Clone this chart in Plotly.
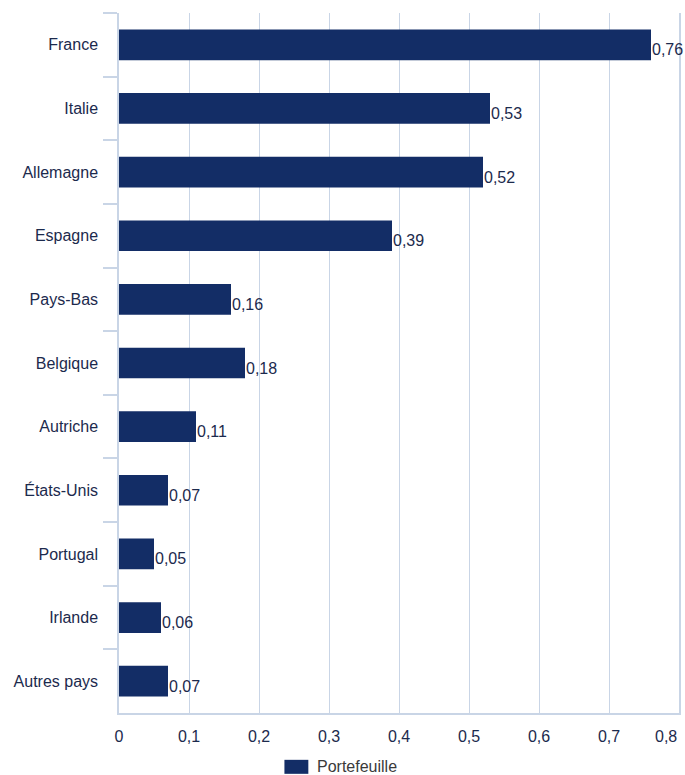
import plotly.graph_objects as go

# Exposition par pays
countries = ["France", "Italie", "Allemagne", "Espagne", "Pays-Bas", "Belgique",
             "Autriche", "États-Unis", "Portugal", "Irlande", "Autres pays"]
values = [0.76, 0.53, 0.52, 0.39, 0.16, 0.18, 0.11, 0.07, 0.05, 0.06, 0.07]
x_ticks = [0, 0.1, 0.2, 0.3, 0.4, 0.5, 0.6, 0.7, 0.8]
x_tick_labels = ["0", "0,1", "0,2", "0,3", "0,4", "0,5", "0,6", "0,7", "0,8"]
series_name = "Portefeuille"

BAR = "#132d66"
TEXT = "#1c2a4d"
GRID = "#c9d5e6"
FONT = "Liberation Sans, Arial, sans-serif"

fig = go.Figure(
    go.Bar(
        x=values,
        y=countries,
        orientation="h",
        name=series_name,
        marker=dict(color=BAR, line=dict(width=0)),
        showlegend=False,
        hoverinfo="x+y",
    )
)

# value labels just right of each bar end
for c, v in zip(countries, values):
    fig.add_annotation(
        x=v, y=c, xref="x", yref="y",
        text=f"{v:.2f}".replace(".", ","),
        showarrow=False, xanchor="left", yanchor="middle",
        xshift=-1, yshift=-5,
        font=dict(family=FONT, size=16, color=TEXT),
    )

# last x tick label sits flush against the right edge
fig.add_annotation(
    x=x_ticks[-1], y=0, xref="x", yref="paper",
    text=x_tick_labels[-1], showarrow=False,
    xanchor="right", yanchor="middle", yshift=-23,
    font=dict(family=FONT, size=16, color=TEXT),
)

# legend key below the plot: wide swatch + series name
fig.add_shape(
    type="rect", xref="paper", yref="paper",
    x0=0.2954, x1=0.3381, y0=-0.0669, y1=-0.0869,
    fillcolor=BAR, line=dict(width=0),
)
fig.add_annotation(
    x=0.3505, y=-0.0769, xref="paper", yref="paper",
    text=series_name, showarrow=False,
    xanchor="left", yanchor="middle",
    font=dict(family=FONT, size=16, color="#3a3a3a"),
)

fig.update_layout(
    width=685,
    height=775,
    margin=dict(l=119, r=4, t=13, b=62),
    paper_bgcolor="white",
    plot_bgcolor="white",
    bargap=0.518,
    font=dict(family=FONT, size=16, color=TEXT),
    separators=", ",
    showlegend=False,
    xaxis=dict(
        range=[0, 0.8],
        tickvals=x_ticks[:-1],
        ticktext=x_tick_labels[:-1],
        showgrid=True,
        gridcolor=GRID,
        gridwidth=1,
        zeroline=False,
        showline=True,
        linecolor=GRID,
        linewidth=1.5,
        ticks="",
        ticklabelstandoff=8,
        tickfont=dict(family=FONT, size=16, color=TEXT),
        fixedrange=True,
    ),
    yaxis=dict(
        autorange="reversed",
        showgrid=False,
        zeroline=False,
        showline=True,
        mirror=True,
        linecolor=GRID,
        linewidth=1.5,
        ticks="outside",
        tickson="boundaries",
        ticklen=14,
        tickcolor=GRID,
        tickwidth=1.5,
        ticklabelstandoff=16,
        tickfont=dict(family=FONT, size=16, color=TEXT),
        fixedrange=True,
    ),
)

fig.write_html("out.html")
